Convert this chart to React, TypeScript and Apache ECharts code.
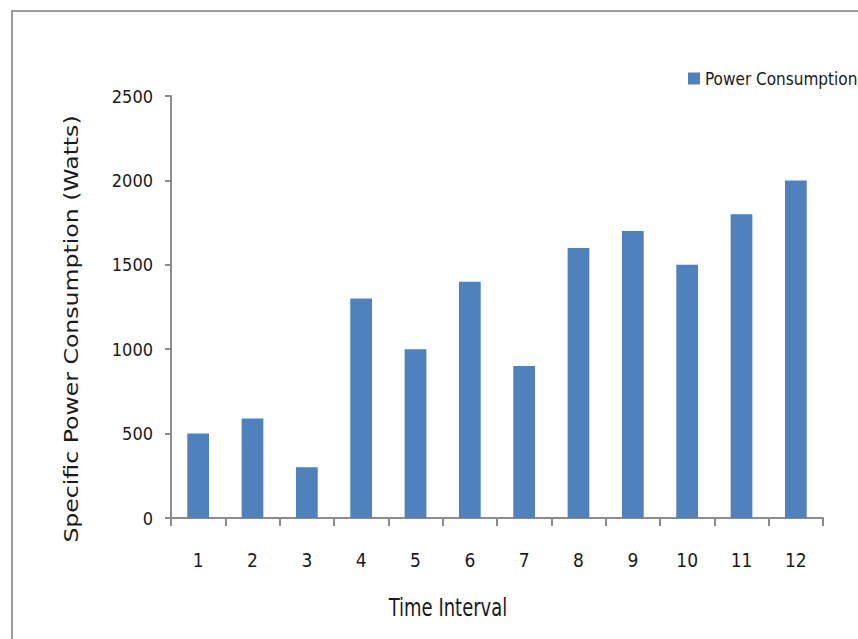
import React, { useEffect, useRef } from "react";
import * as echarts from "echarts";

const categories = ["1", "2", "3", "4", "5", "6", "7", "8", "9", "10", "11", "12"];
const powerValues = [500, 590, 300, 1300, 1000, 1400, 900, 1600, 1700, 1500, 1800, 2000];
const seriesName = "Power Consumption";
const xTitle = "Time Interval";
const yTitle = "Specific Power Consumption (Watts)";

const NARROW = "'DejaVu Sans Condensed', 'Liberation Sans Narrow', sans-serif";

export default function App() {
  const ref = useRef<HTMLDivElement>(null);
  useEffect(() => {
    if (!ref.current) return;
    const chart = echarts.init(ref.current, undefined, { renderer: "svg" });
    chart.setOption({
      animation: false,
      backgroundColor: "#ffffff",
      grid: { left: 171, right: 35, top: 96, bottom: 121 },
      legend: {
        left: 683,
        top: 65,
        itemWidth: 12,
        itemHeight: 12,
        itemGap: 5,
        icon: "rect",
        data: [seriesName],
        textStyle: { fontFamily: NARROW, fontSize: 17, color: "#1a1a1a" },
      },
      xAxis: {
        type: "category",
        data: categories,
        axisLine: { lineStyle: { color: "#8c8c8c", width: 2 } },
        axisTick: { show: true, length: 8, alignWithLabel: false, lineStyle: { color: "#8c8c8c", width: 2 } },
        axisLabel: { fontFamily: NARROW, fontSize: 19, color: "#1a1a1a", margin: 32 },
        splitLine: { show: false },
      },
      yAxis: {
        type: "value",
        min: 0,
        max: 2500,
        interval: 500,
        axisLine: { show: true, lineStyle: { color: "#8c8c8c", width: 2 } },
        axisTick: { show: true, length: 6, lineStyle: { color: "#8c8c8c", width: 2 } },
        axisLabel: {
          fontFamily: NARROW,
          fontSize: 18,
          color: "#1a1a1a",
          margin: 18,
          formatter: (v: number) => String(v),
        },
        splitLine: { show: false },
      },
      series: [
        {
          name: seriesName,
          type: "bar",
          data: powerValues,
          barCategoryGap: "60%",
          itemStyle: { color: "#4f81bd" },
        },
      ],
      graphic: [
        {
          type: "rect",
          shape: { x: 12, y: 11, width: 900, height: 700 },
          style: { fill: "none", stroke: "#9a9a9a", lineWidth: 2 },
          silent: true,
        },
        {
          type: "text",
          x: 448,
          y: 607,
          scaleY: 1.2,
          style: {
            text: xTitle,
            fontFamily: NARROW,
            fontSize: 20,
            fill: "#1a1a1a",
            align: "center",
            verticalAlign: "middle",
          },
        },
        {
          type: "text",
          x: 71,
          y: 329,
          rotation: Math.PI / 2,
          scaleX: 1.18,
          style: {
            text: yTitle,
            fontFamily: "Verdana, 'DejaVu Sans', sans-serif",
            fontSize: 20,
            fill: "#1a1a1a",
            align: "center",
            verticalAlign: "middle",
          },
        },
      ],
    });
    return () => chart.dispose();
  }, []);
  return (
    <div
      ref={ref}
      style={{ position: "absolute", left: 0, top: 0, width: 858, height: 639 }}
    />
  );
}
